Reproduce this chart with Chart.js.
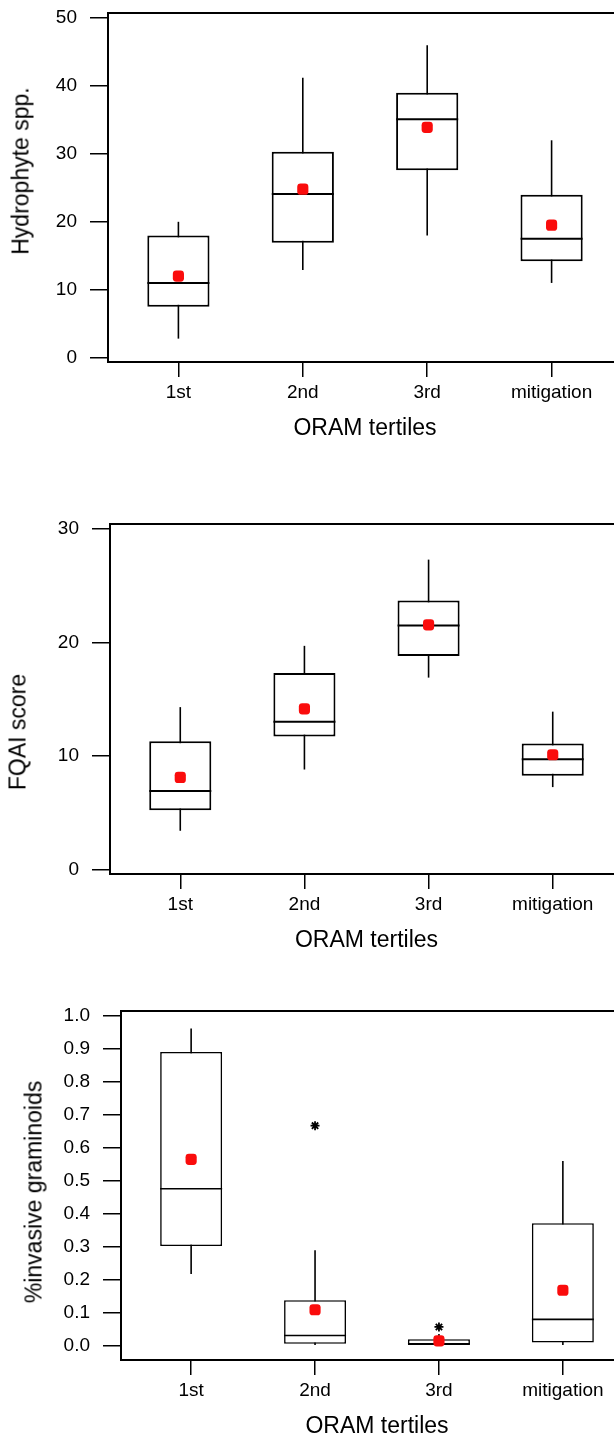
<!DOCTYPE html>
<html>
<head>
<meta charset="utf-8">
<script src="https://cdn.jsdelivr.net/npm/chart.js@4.4.1/dist/chart.umd.min.js"></script>
<style>
  html, body { margin: 0; padding: 0; background: #fff; }
  body { position: relative; width: 614px; height: 1439px; overflow: hidden; }
  canvas { position: absolute; left: 0; }
  .ytitle {
    position: absolute;
    font: 23px "Liberation Sans", Arial, sans-serif;
    line-height: 1;
    white-space: nowrap;
    color: #000;
    transform: translate(-50%, -50%) rotate(-90deg);
  }
</style>
</head>
<body>
<canvas id="hydro" width="660" height="442" style="top:0px"></canvas>
<canvas id="fqai" width="660" height="454" style="top:500px"></canvas>
<canvas id="invasive" width="660" height="450" style="top:990px"></canvas>
<div class="ytitle" style="left:21px;top:171px">Hydrophyte spp.</div>
<div class="ytitle" style="left:18px;top:732px">FQAI score</div>
<div class="ytitle" style="left:34px;top:1192px">%invasive graminoids</div>
<script>
const tertiles = ['1st', '2nd', '3rd', 'mitigation'];

// Hydrophyte spp.
const hydroLow = [2.8, 12.9, 18.0, 11.0];
const hydroQ1 = [7.5, 16.9, 27.6, 14.2];
const hydroMed = [11.0, 24.1, 35.1, 17.5];
const hydroQ3 = [18.0, 30.3, 39.0, 24.0];
const hydroHigh = [20.0, 41.2, 46.0, 32.0];
const hydroMean = [12.0, 24.8, 33.9, 19.5];
const hydroTicks = [0, 10, 20, 30, 40, 50];

// FQAI score
const fqaiLow = [3.4, 8.8, 16.9, 7.25];
const fqaiQ1 = [5.2, 11.7, 18.8, 8.25];
const fqaiMed = [6.9, 13.0, 21.5, 9.7];
const fqaiQ3 = [11.3, 17.3, 23.7, 11.1];
const fqaiHigh = [14.3, 19.7, 27.3, 13.9];
const fqaiMean = [8.1, 14.15, 21.55, 10.1];
const fqaiTicks = [0, 10, 20, 30];

// %invasive graminoids
const invLow = [0.217, 0.0, 0.0, 0.0];
const invQ1 = [0.302, 0.006, 0.0, 0.01];
const invMed = [0.475, 0.031, 0.006, 0.08];
const invQ3 = [0.889, 0.138, 0.02, 0.371];
const invHigh = [0.96, 0.289, 0.036, 0.559];
const invMean = [0.564, 0.109, 0.015, 0.168];
const invOutCat = ['2nd', '3rd'];
const invOutVal = [0.666, 0.057];
const invTicks = [0, 0.1, 0.2, 0.3, 0.4, 0.5, 0.6, 0.7, 0.8, 0.9, 1.0];

Chart.defaults.font.family = '"Liberation Sans", Arial, sans-serif';
Chart.defaults.color = '#000';

const framePlugin = {
    id: 'frame',
    afterDraw(chart, args, opts) {
        const a = chart.chartArea;
        const ctx = chart.ctx;
        ctx.save();
        ctx.lineWidth = opts.width;
        ctx.strokeStyle = '#000';
        ctx.strokeRect(a.left, a.top, a.right - a.left, a.bottom - a.top);
        ctx.restore();
    }
};

function pts(vals) {
    return vals.map((v, i) => ({ x: i + 1, y: v }));
}

function configuration(p) {
    const datasets = [
        {
            type: 'scatter',
            data: pts(p.mean),
            pointStyle: 'rectRounded',
            pointRadius: 6.5,
            pointBackgroundColor: 'rgb(250,12,12)',
            pointBorderWidth: 0,
            order: 0
        },
        {
            type: 'scatter',
            data: (p.outCat || []).map((c, i) => ({ x: tertiles.indexOf(c) + 1, y: p.outVal[i] })),
            pointStyle: 'star',
            pointRadius: 4.5,
            pointBorderColor: '#000',
            pointBorderWidth: 1.8,
            order: 1
        },
        {
            type: 'scatter',
            data: pts(p.med),
            pointStyle: 'line',
            pointRadius: 31,
            pointBorderColor: '#000',
            pointBorderWidth: p.lw,
            order: 2
        },
        {
            type: 'bar',
            data: p.q1.map((v, i) => ({ x: i + 1, y: [v, p.q3[i]] })),
            backgroundColor: '#fff',
            borderColor: '#000',
            borderWidth: p.lw,
            borderSkipped: false,
            grouped: false,
            barPercentage: 0.5,
            categoryPercentage: 1,
            order: 3
        },
        {
            type: 'bar',
            data: p.low.map((v, i) => ({ x: i + 1, y: [v, p.high[i]] })),
            backgroundColor: '#000',
            borderWidth: 0,
            grouped: false,
            maxBarThickness: 1.6,
            order: 4
        }
    ];

    return {
        type: 'bar',
        data: { datasets: datasets },
        plugins: [framePlugin],
        options: {
            responsive: false,
            animation: false,
            layout: {
                autoPadding: false,
                padding: { top: p.top, right: 660 - p.right, bottom: 0, left: 0 }
            },
            plugins: {
                legend: { display: false },
                tooltip: { enabled: false },
                frame: { width: 2 }
            },
            scales: {
                x: {
                    type: 'linear',
                    offset: false,
                    min: 0.434,
                    max: 4.566,
                    afterBuildTicks: (s) => { s.ticks = tertiles.map((c, i) => ({ value: i + 1 })); },
                    afterFit: (s) => {
                        s.height = p.xh;
                        s.paddingLeft = 0;
                        s.paddingRight = 0;
                    },
                    ticks: {
                        font: { size: 19 },
                        padding: 4,
                        maxRotation: 0,
                        autoSkip: false,
                        callback: (v) => tertiles[v - 1]
                    },
                    grid: { offset: false, drawOnChartArea: false, tickLength: 15, color: '#000', lineWidth: 1.5 },
                    border: { display: false },
                    title: { display: true, text: 'ORAM tertiles', font: { size: 23 }, padding: 0 }
                },
                y: {
                    type: 'linear',
                    min: p.yMin,
                    max: p.yMax,
                    afterBuildTicks: (s) => { s.ticks = p.ticks.map(v => ({ value: v })); },
                    afterFit: (s) => {
                        s.width = p.left;
                        s.paddingTop = 0;
                        s.paddingBottom = 0;
                    },
                    ticks: {
                        font: { size: 19 },
                        padding: 13,
                        callback: p.fmt
                    },
                    grid: { drawOnChartArea: false, tickLength: 18, color: '#000', lineWidth: 1.5 },
                    border: { display: false }
                }
            }
        }
    };
}

new Chart(document.getElementById('hydro'), configuration({
    low: hydroLow, q1: hydroQ1, med: hydroMed, q3: hydroQ3, high: hydroHigh, mean: hydroMean,
    ticks: hydroTicks, yMin: -0.64, yMax: 50.74, fmt: (v) => v,
    top: 13, left: 108, right: 622, xh: 80, lw: 2
}));

new Chart(document.getElementById('fqai'), configuration({
    low: fqaiLow, q1: fqaiQ1, med: fqaiMed, q3: fqaiQ3, high: fqaiHigh, mean: fqaiMean,
    ticks: fqaiTicks, yMin: -0.41, yMax: 30.44, fmt: (v) => v,
    top: 24, left: 110, right: 623, xh: 80, lw: 2
}));

new Chart(document.getElementById('invasive'), configuration({
    low: invLow, q1: invQ1, med: invMed, q3: invQ3, high: invHigh, mean: invMean,
    outCat: invOutCat, outVal: invOutVal,
    ticks: invTicks, yMin: -0.043, yMax: 1.013, fmt: (v) => v.toFixed(1),
    top: 21, left: 121, right: 633, xh: 80, lw: 1.6
}));
</script>
</body>
</html>
